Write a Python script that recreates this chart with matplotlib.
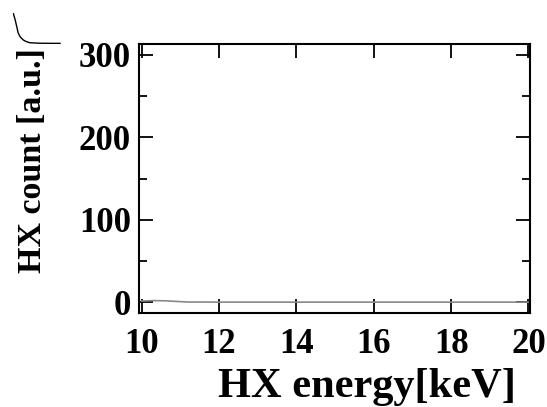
import matplotlib
matplotlib.use("Agg")
import matplotlib.pyplot as plt
from matplotlib.ticker import MultipleLocator

# Main spectrum (gray line near zero)
energy = [10.0, 10.3, 10.6, 10.9, 11.2, 12, 13, 14, 15, 16, 17, 18, 19, 20]
count = [1.5, 2.0, 1.8, 1.0, 0.3, 0.2, 0.2, 0.2, 0.2, 0.2, 0.2, 0.2, 0.2, 0.2]

# Small stray curve at top-left
inset_x = [0.0, 0.42, 1.04, 1.46, 2.1, 2.7, 3.5, 5.6, 9.8]
inset_y = [100, 77, 35, 23, 13, 8, 4, 2.5, 2]

xticks = [10, 12, 14, 16, 18, 20]
yticks = [0, 100, 200, 300]

plt.rcParams['font.family'] = ['Liberation Serif', 'DejaVu Serif']
plt.rcParams['font.weight'] = 'bold'

fig = plt.figure(figsize=(5.47, 4.07), dpi=100)
W, H = 547, 407
ax = fig.add_axes([139.3 / W, (H - 313) / H, (530 - 139.3) / W, (313 - 44) / H])

ax.plot(energy, count, color='#888888', lw=1.2)
ax.set_xlim(9.94, 20.04)
ax.set_ylim(-13, 313)
ax.set_xticks(xticks)
ax.set_yticks(yticks)
ax.yaxis.set_minor_locator(MultipleLocator(50))
ax.tick_params(which='both', direction='in', top=True, right=True,
               labelsize=25, width=1.3)
ax.tick_params(axis='x', pad=11)
ax.tick_params(axis='y', pad=6)
ax.tick_params(which='major', length=10)
ax.tick_params(which='minor', length=6)
for lab in ax.get_xticklabels() + ax.get_yticklabels():
    lab.set_fontweight('bold')
for s in ax.spines.values():
    s.set_linewidth(1.5)
ax.set_xlabel('HX energy[keV]', fontsize=30.5, fontweight='bold')
ax.set_ylabel('HX count [a.u.]', fontsize=24.5, fontweight='bold')
ax.xaxis.set_label_coords(0.582, -0.203)
ax.yaxis.set_label_coords(-0.233, 0.568)

ax2 = fig.add_axes([13.3 / W, (H - 44) / H, (61 - 13.3) / W, (44 - 13.3) / H])
ax2.plot(inset_x, inset_y, color='black', lw=1.0)
ax2.set_xlim(0, 10)
ax2.set_ylim(0, 100)
ax2.axis('off')

fig.savefig('out.png', dpi=100)
